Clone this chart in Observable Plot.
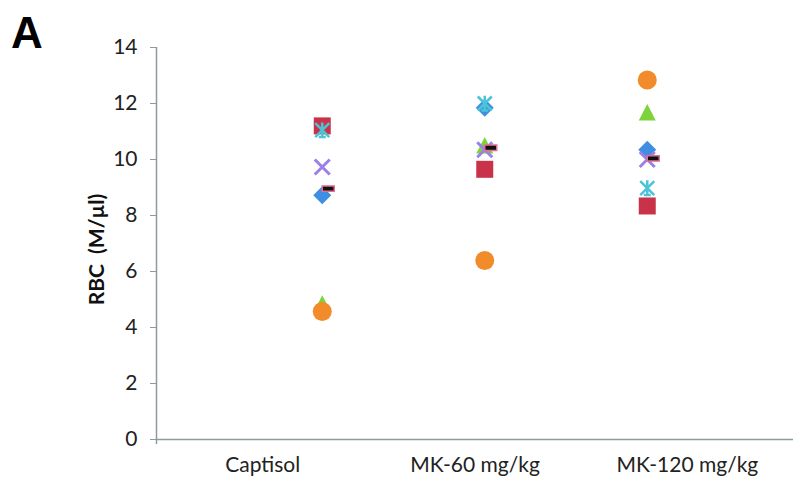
<!DOCTYPE html>
<html><head><meta charset="utf-8">
<script src="https://cdn.jsdelivr.net/npm/d3@7"></script>
<script src="https://cdn.jsdelivr.net/npm/@observablehq/plot@0.6"></script>
<style>
body{margin:0;background:#fff;}
#wrap{position:relative;width:793px;height:483px;}
#panel{position:absolute;left:11px;top:11px;font:bold 44px "Liberation Sans",Arial,sans-serif;line-height:1;color:#000;}
#wrap svg{position:absolute;left:0;top:0;}
</style></head><body><div id="wrap"></div>
<script>
// ---- data ----
const categories = ["Captisol", "MK-60 mg/kg", "MK-120 mg/kg"];
const groupIndex = [1, 2, 3];
const yTicks = [0, 2, 4, 6, 8, 10, 12, 14];
const yLabel = "RBC  (M/µl)";
const panelLabel = "A";
const diamondValues  = [8.72, 11.85, 10.35];
const squareValues   = [11.2, 9.65, 8.34];
const triangleValues = [4.85, 10.5, 11.68];
const crossValues    = [9.73, 10.35, 10.0];
const starValues     = [11.05, 12.0, 8.98];
const circleValues   = [4.57, 6.39, 12.84];
const dashValues     = [8.96, 10.42, 10.04];

// ---- symbols ----
const R = size => Math.sqrt(size / Math.PI);
const sym = {
  diamond: {draw(c, s){const r=R(s); c.moveTo(0,-r); c.lineTo(r,0); c.lineTo(0,r); c.lineTo(-r,0); c.closePath();}},
  square: {draw(c, s){const r=R(s); c.rect(-r,-r,2*r,2*r);}},
  triangle: {draw(c, s){const r=R(s); c.moveTo(0,-r); c.lineTo(r,r*0.95); c.lineTo(-r,r*0.95); c.closePath();}},
  cross: {draw(c, s){const r=R(s); c.moveTo(-r,-r); c.lineTo(r,r); c.moveTo(r,-r); c.lineTo(-r,r);}},
  star: {draw(c, s){const r=R(s); c.moveTo(-r,-r); c.lineTo(r,r); c.moveTo(r,-r); c.lineTo(-r,r);
    c.moveTo(0,-r*1.1); c.lineTo(0,r*1.1); c.moveTo(-r*0.5,r); c.lineTo(r*0.5,r);}},
  dash: {draw(c, s){const r=R(s); c.rect(-r,-r*0.45,2*r,r*0.9);}}
};

const rows = vals => vals.map((v, i) => ({x: groupIndex[i], y: v}));
const xDomain = [-0.02, 3.9];
const labelPos = categories.map((_, i) => xDomain[0] + (i + 0.5) * (xDomain[1] - xDomain[0]) / categories.length);

const chart = Plot.plot({
  width: 793,
  height: 483,
  marginLeft: 156,
  marginRight: 0,
  marginTop: 47,
  marginBottom: 44,
  style: {fontFamily: "Lato, sans-serif", fontSize: "21px", color: "#222", background: "transparent"},
  x: {type: "linear", domain: xDomain},
  y: {type: "linear", domain: [0, 14]},
  marks: [
    Plot.axisY({ticks: yTicks, tickSize: 6, tickPadding: 13, stroke: "#8c9c9c", label: null, fill: "#222"}),
    Plot.axisX({ticks: labelPos, tickFormat: (d, i) => categories[i], tickSize: 0, tickPadding: 18, label: null, fill: "#222"}),
    Plot.ruleY([0], {stroke: "#8c9c9c", strokeWidth: 1.5}),
    Plot.ruleX([xDomain[0]], {stroke: "#8c9c9c", strokeWidth: 1.5}),
    Plot.ruleX([xDomain[0]], {y1: 0, y2: 0, insetBottom: -5, stroke: "#8c9c9c", strokeWidth: 1.5}),
    Plot.text([yLabel], {frameAnchor: "left", textAnchor: "middle", rotate: -90, dx: -59, dy: 6, fontWeight: "bold", fontSize: 21, fill: "#111"}),
    Plot.dot(rows(diamondValues),  {x: "x", y: "y", symbol: sym.diamond, r: 9, fill: "#3e8fe2", stroke: "none"}),
    Plot.dot(rows(squareValues),   {x: "x", y: "y", symbol: sym.square, r: 8.5, fill: "#c8334a", stroke: "none"}),
    Plot.dot(rows(triangleValues), {x: "x", y: "y", symbol: sym.triangle, r: 8.5, fill: "#7fd33a", stroke: "none"}),
    Plot.dot(rows(crossValues),    {x: "x", y: "y", symbol: sym.cross, r: 7.5, fill: "none", stroke: "#9b80e6", strokeWidth: 3}),
    Plot.dot(rows(starValues),     {x: "x", y: "y", symbol: sym.star, r: 7, fill: "none", stroke: "#4cc3d6", strokeWidth: 2.5}),
    Plot.dot(rows(circleValues),   {x: "x", y: "y", symbol: "circle", r: 9.5, fill: "#f28b2a", stroke: "none"}),
    Plot.dot(rows(dashValues),     {x: "x", y: "y", symbol: sym.dash, r: 6, dx: 6, fill: "#111", stroke: "#e0708e", strokeWidth: 1.5})
  ]
});
const wrap = document.getElementById("wrap");
wrap.appendChild(chart);
const p = document.createElement("div");
p.id = "panel"; p.textContent = panelLabel;
wrap.appendChild(p);
</script>
</body></html>
